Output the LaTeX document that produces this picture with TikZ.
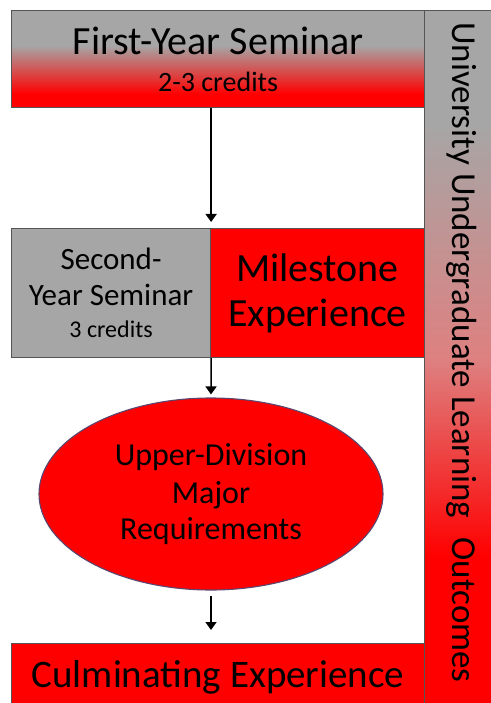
\documentclass[tikz,border=0pt]{standalone}
\usepackage{fontspec}
\setmainfont{Carlito}
\usepackage{graphicx}
\usetikzlibrary{positioning,calc,shapes,arrows.meta}
\definecolor{boxgray}{RGB}{166,166,166}
\definecolor{boxred}{RGB}{255,0,0}
\definecolor{pinkred}{RGB}{222,128,128}
\definecolor{edgegray}{RGB}{85,85,85}
\definecolor{ovaledge}{RGB}{90,70,110}
\pgfdeclareverticalshading{fysshade}{100bp}{color(0bp)=(boxred); color(32bp)=(boxred); color(57bp)=(boxgray); color(100bp)=(boxgray)}
\pgfdeclareverticalshading{outshade}{100bp}{color(0bp)=(boxred); color(36bp)=(boxred); color(50bp)=(pinkred); color(67bp)=(boxgray); color(100bp)=(boxgray)}
\tikzset{
  box/.style={draw=edgegray, line width=1.1pt, inner sep=0pt, align=center, text=black},
  flow/.style={-{Triangle[width=11pt,length=8pt]}, line width=1.5pt, black}
}

\begin{document}
\begin{tikzpicture}[x=1pt,y=-1pt]
  \useasboundingbox[fill=white] (0,0) rectangle (490,703);
  \node[box, shading=outshade, anchor=north west, minimum width=75pt, minimum height=700pt] (outcomes) at (424,10)
    {\fontsize{35}{38}\selectfont\rotatebox{-90}{University Undergraduate Learning\hspace{0.55em}Outcomes\hspace{16pt}}};
  \node[box, shading=fysshade, anchor=north west, minimum width=413pt, minimum height=97pt,
    font=\fontsize{40}{37}\selectfont] (fys) at (11,10)
    {First-Year Seminar\\{\fontsize{28}{30}\selectfont 2-3 credits}};
  \node[box, fill=boxgray, anchor=north west, minimum width=199pt, minimum height=129pt,
    font=\fontsize{31}{36}\selectfont] (sys) at (11,228)
    {Second-\\Year Seminar\\[-4pt]{\fontsize{24}{26}\selectfont 3 credits}};
  \node[box, fill=boxred, anchor=north west, minimum width=214pt, minimum height=129pt,
    font=\fontsize{40}{45}\selectfont] (milestone) at (210,228)
    {Milestone\\Experience};
  \node[box, draw=ovaledge, fill=boxred, ellipse, minimum width=344pt, minimum height=192pt,
    font=\fontsize{32}{38}\selectfont] (major) at (211,494)
    {Upper-Division\\Major\\[-2pt]Requirements};
  \node[box, fill=boxred, anchor=north west, minimum width=413pt, minimum height=67pt,
    font=\fontsize{39}{42}\selectfont] (culm) at (11,643)
    {Culminating Experience};
  \draw[flow, shorten >=6pt] (fys.south -| sys.east) -- (sys.north east);
  \draw[flow, shorten >=3pt] (sys.south east) -- (major.north);
  \draw[flow, shorten <=5pt, shorten >=13pt] (major.south) -- (major.south |- culm.north);
\end{tikzpicture}
\end{document}
